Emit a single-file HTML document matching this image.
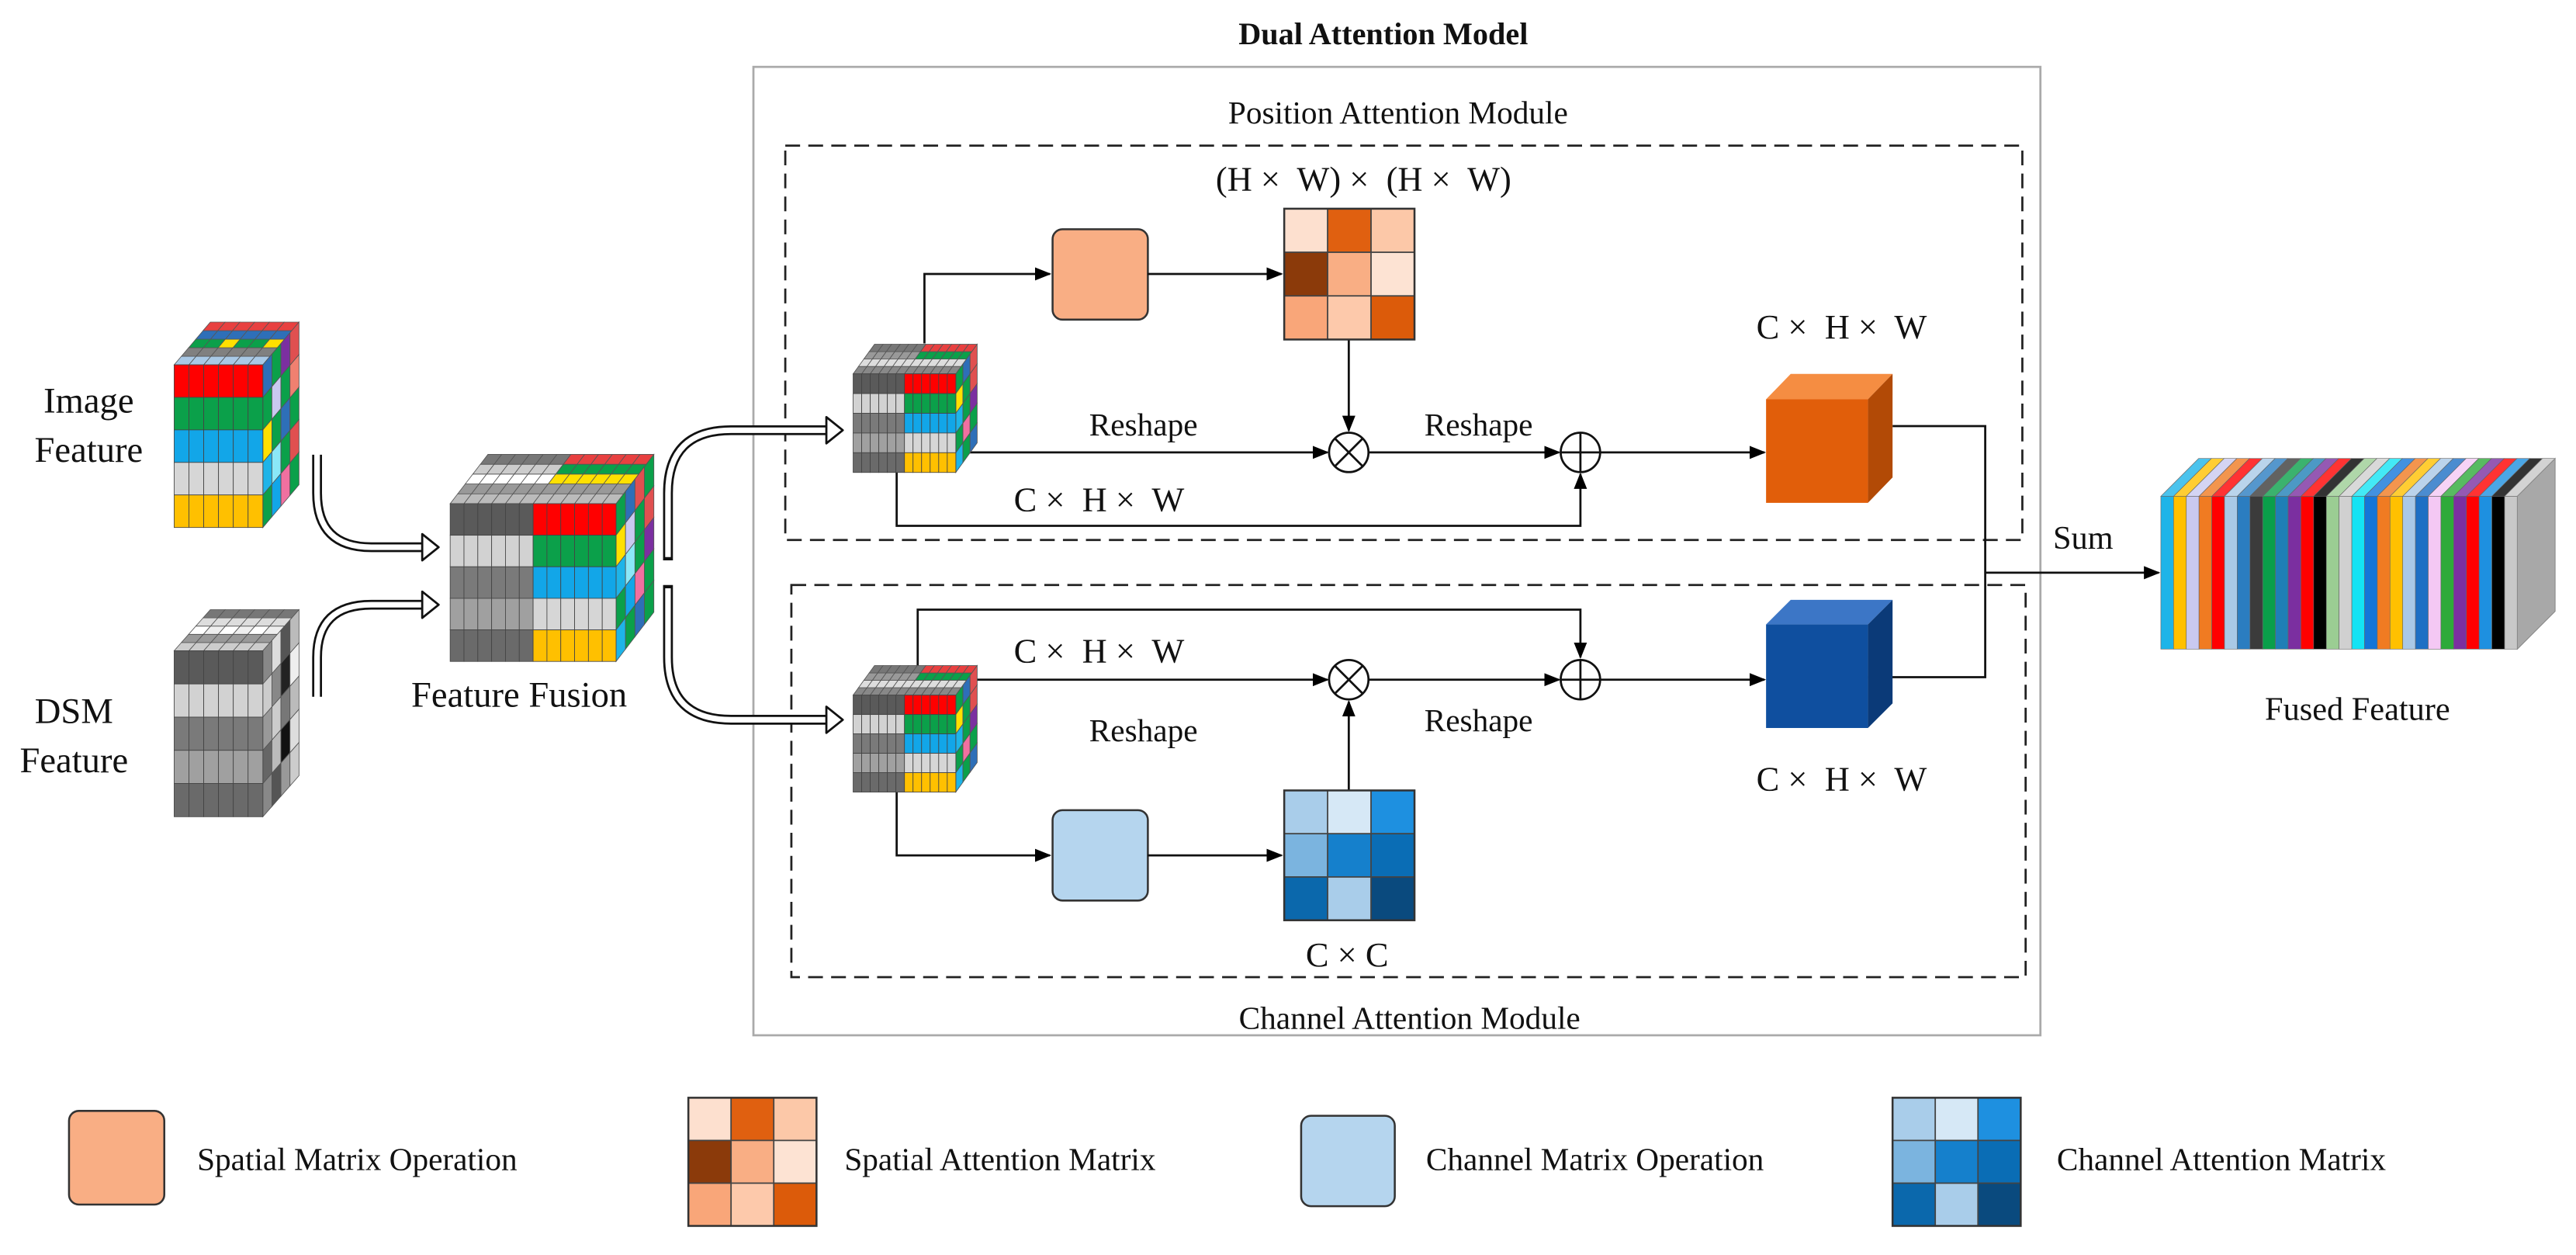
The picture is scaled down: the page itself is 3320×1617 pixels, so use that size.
<!DOCTYPE html>
<html><head><meta charset="utf-8">
<style>
html,body{margin:0;padding:0;background:#fff;}
svg{display:block;}
text{font-family:"Liberation Serif",serif;fill:#111;}
</style></head>
<body>
<svg id="s" xmlns="http://www.w3.org/2000/svg" width="3320" height="1617" viewBox="0 0 1568 763.7">
<defs>
<marker id="ah" markerWidth="10" markerHeight="10" refX="9" refY="5" orient="auto" markerUnits="userSpaceOnUse">
<path d="M0,1 L10,5 L0,9 Z" fill="#000"/>
</marker>
</defs>
<rect width="1568" height="764" fill="#fff"/>

<text x="842" y="27" font-size="19" font-weight="bold" text-anchor="middle">Dual Attention Model</text>
<rect x="458.6" y="40.7" width="783.4" height="589.3" fill="none" stroke="#aaa" stroke-width="1.3"/>
<text x="851" y="75" font-size="19.5" text-anchor="middle">Position Attention Module</text>
<rect x="478" y="88.6" width="753" height="240" fill="none" stroke="#222" stroke-width="1.3" stroke-dasharray="9,5"/>
<rect x="481.7" y="356" width="751.3" height="238.6" fill="none" stroke="#222" stroke-width="1.3" stroke-dasharray="9,5"/>
<text x="858" y="626" font-size="19.5" text-anchor="middle">Channel Attention Module</text>

<text x="830" y="116" font-size="21" text-anchor="middle" xml:space="preserve">(H ×  W) ×  (H ×  W)</text>
<text x="696" y="265" font-size="19.5" text-anchor="middle">Reshape</text>
<text x="900" y="265" font-size="19.5" text-anchor="middle">Reshape</text>
<text x="669" y="311" font-size="21" text-anchor="middle" xml:space="preserve">C ×  H ×  W</text>
<text x="1121" y="206" font-size="21" text-anchor="middle" xml:space="preserve">C ×  H ×  W</text>

<text x="669" y="403" font-size="21" text-anchor="middle" xml:space="preserve">C ×  H ×  W</text>
<text x="696" y="451" font-size="19.5" text-anchor="middle">Reshape</text>
<text x="900" y="445" font-size="19.5" text-anchor="middle">Reshape</text>
<text x="1121" y="481" font-size="21" text-anchor="middle" xml:space="preserve">C ×  H ×  W</text>
<text x="820" y="588" font-size="21" text-anchor="middle">C × C</text>

<text x="54" y="251" font-size="22" text-anchor="middle">Image</text>
<text x="54" y="281" font-size="22" text-anchor="middle">Feature</text>
<text x="45" y="440" font-size="22" text-anchor="middle">DSM</text>
<text x="45" y="470" font-size="22" text-anchor="middle">Feature</text>
<text x="316" y="430" font-size="22" text-anchor="middle">Feature Fusion</text>
<text x="1268" y="334" font-size="20" text-anchor="middle">Sum</text>
<text x="1435" y="438" font-size="20" text-anchor="middle">Fused Feature</text>

<rect x="640.7" y="139.5" width="58" height="55" rx="6" fill="#F9AE84" stroke="#333" stroke-width="1.2"/>
<rect x="640.7" y="493" width="58" height="55" rx="6" fill="#B5D5EE" stroke="#333" stroke-width="1.2"/>

<g stroke="#111" stroke-width="1.3" fill="none">
<polyline points="562.7,209 562.7,166.7 639,166.7" marker-end="url(#ah)"/>
<line x1="698.6" y1="166.7" x2="780" y2="166.7" marker-end="url(#ah)"/>
<line x1="821" y1="206.6" x2="821" y2="262" marker-end="url(#ah)"/>
<line x1="589" y1="275.3" x2="808" y2="275.3" marker-end="url(#ah)"/>
<line x1="833.3" y1="275.3" x2="949" y2="275.3" marker-end="url(#ah)"/>
<line x1="974" y1="275.3" x2="1074" y2="275.3" marker-end="url(#ah)"/>
<polyline points="545.8,287 545.8,320 962,320 962,288.5" marker-end="url(#ah)"/>
<circle cx="821" cy="275.3" r="12" fill="#fff"/>
<line x1="812.5" y1="266.8" x2="829.5" y2="283.8"/><line x1="829.5" y1="266.8" x2="812.5" y2="283.8"/>
<circle cx="962" cy="275.3" r="12" fill="#fff"/>
<line x1="950" y1="275.3" x2="974" y2="275.3"/><line x1="962" y1="263.3" x2="962" y2="287.3"/>

<polyline points="558.6,405 558.6,371 962,371 962,400" marker-end="url(#ah)"/>
<line x1="589" y1="413.6" x2="808" y2="413.6" marker-end="url(#ah)"/>
<line x1="833.3" y1="413.6" x2="949" y2="413.6" marker-end="url(#ah)"/>
<line x1="974" y1="413.6" x2="1074" y2="413.6" marker-end="url(#ah)"/>
<line x1="821" y1="481" x2="821" y2="427" marker-end="url(#ah)"/>
<polyline points="545.8,482 545.8,520.5 639,520.5" marker-end="url(#ah)"/>
<line x1="698.6" y1="520.5" x2="780" y2="520.5" marker-end="url(#ah)"/>
<circle cx="821" cy="413.6" r="12" fill="#fff"/>
<line x1="812.5" y1="405.1" x2="829.5" y2="422.1"/><line x1="829.5" y1="405.1" x2="812.5" y2="422.1"/>
<circle cx="962" cy="413.6" r="12" fill="#fff"/>
<line x1="950" y1="413.6" x2="974" y2="413.6"/><line x1="962" y1="401.6" x2="962" y2="425.6"/>

<polyline points="1152,259.3 1208.4,259.3 1208.4,412.1 1137,412.1"/>
<line x1="1208.4" y1="348.5" x2="1314" y2="348.5" marker-end="url(#ah)"/>
</g>

<g fill="none" stroke-linejoin="round">
<g stroke="#111" stroke-width="6">
<path d="M193,276.7 L193,300 Q193,333 226,333 L258,333"/>
<path d="M193,424 L193,400 Q193,368 226,368 L258,368"/>
<path d="M406.6,341 L406.6,300 Q406.6,261.8 445,261.8 L504,261.8"/>
<path d="M406.6,356 L406.6,400 Q406.6,438 445,438 L504,438"/>
</g>
<g stroke="#fff" stroke-width="3.4">
<path d="M193,275 L193,300 Q193,333 226,333 L260,333"/>
<path d="M193,426 L193,400 Q193,368 226,368 L260,368"/>
<path d="M406.6,339 L406.6,300 Q406.6,261.8 445,261.8 L506,261.8"/>
<path d="M406.6,358 L406.6,400 Q406.6,438 445,438 L506,438"/>
</g>
<g fill="#fff" stroke="#111" stroke-width="1.3">
<path d="M257,325 L267,333 L257,341 Z"/>
<path d="M257,360 L267,368 L257,376 Z"/>
<path d="M503,253.8 L513,261.8 L503,269.8 Z"/>
<path d="M503,430 L513,438 L503,446 Z"/>
</g>
</g>

<g stroke="none">
<polygon points="1075,243 1090,227.5 1152,227.5 1137,243" fill="#F58D42"/>
<polygon points="1137,243 1152,227.5 1152,290.5 1137,306" fill="#B24A06"/>
<rect x="1075" y="243" width="62" height="63" fill="#E15E0A"/>
<polygon points="1075,380 1090,365 1152,365 1137,380" fill="#3C76C6"/>
<polygon points="1137,380 1152,365 1152,428 1137,443" fill="#0B3A78"/>
<rect x="1075" y="380" width="62" height="63" fill="#0F4F9F"/>
</g>

<g id="dyn"></g>

<rect x="42" y="676" width="58" height="57" rx="6" fill="#F9AE84" stroke="#333" stroke-width="1.2"/>
<text x="120" y="712" font-size="19.5">Spatial Matrix Operation</text>
<text x="514" y="712" font-size="19.5">Spatial Attention Matrix</text>
<rect x="792" y="679" width="57" height="55" rx="6" fill="#B5D5EE" stroke="#333" stroke-width="1.2"/>
<text x="868" y="712" font-size="19.5">Channel Matrix Operation</text>
<text x="1252" y="712" font-size="19.5">Channel Attention Matrix</text>
</svg>
<script>
var NS="http://www.w3.org/2000/svg",g=document.getElementById("dyn");
function el(t,a){var e=document.createElementNS(NS,t);for(var k in a)e.setAttribute(k,a[k]);g.appendChild(e);return e;}
function mat(x,y,w,h,c){var cw=w/3,ch=h/3;for(var r=0;r<3;r++)for(var k=0;k<3;k++)el("rect",{x:x+k*cw,y:y+r*ch,width:cw,height:ch,fill:c[r*3+k],stroke:"#444","stroke-width":0.8});el("rect",{x:x,y:y,width:w,height:h,fill:"none",stroke:"#333","stroke-width":1.2});}
var sp=["#FDE0CF","#E06010","#FCC8A8","#8B3A0A","#F9AE84","#FDE3D3","#F9A679","#FDC9AB","#DC5B0A"];
var ch=["#A9CDEA","#D6E8F6","#1E90E0","#7BB4DF","#1580CC","#0A6DB5","#0B68AC","#A9CDEA","#0A4A7E"];
mat(781.7,127,79.3,79.6,sp);mat(781.7,481,79.3,79,ch);
mat(419,668,78,78,sp);mat(1152,668,78,78,ch);
function cube(x,y,w,h,dx,dy,cols,rowsC,topC,sideC){
 var nr=rowsC.length,cw=w/cols,rh=h/nr,nt=topC.length,ns=sideC[0].length;
 for(var i=0;i<nt;i++)for(var c=0;c<cols;c++){var t0=i/nt,t1=(i+1)/nt;var tr=topC[nt-1-i];var col=tr[c%tr.length];
  var ax=x+c*cw,bx=x+(c+1)*cw;
  el("polygon",{points:[ax+dx*t0,y+dy*t0,bx+dx*t0,y+dy*t0,bx+dx*t1,y+dy*t1,ax+dx*t1,y+dy*t1].join(","),fill:col,stroke:"#555","stroke-width":0.4});}
 for(var r=0;r<nr;r++)for(var j=0;j<ns;j++){var t0=j/ns,t1=(j+1)/ns;var col=sideC[r][j];var X=x+w,Y0=y+r*rh,Y1=y+(r+1)*rh;
  el("polygon",{points:[X+dx*t0,Y0+dy*t0,X+dx*t1,Y0+dy*t1,X+dx*t1,Y1+dy*t1,X+dx*t0,Y1+dy*t0].join(","),fill:col,stroke:"#555","stroke-width":0.4});}
 for(var r=0;r<nr;r++)for(var c=0;c<cols;c++){var row=rowsC[r];var col=Array.isArray(row)?row[c]:row;
  el("rect",{x:x+c*cw,y:y+r*rh,width:cw,height:rh,fill:col,stroke:"#444","stroke-width":0.4});}
}
var R="#FF0000",G="#0BA04A",B="#12A6E8",L="#D6D6D6",Y="#FFC000";
var imgSide=[["#2E6FB8","#0BA04A","#7B2FA0","#E05050"],["#0BA04A","#C9C9F0","#0BA04A","#F08070"],["#FFE000","#0BA04A","#2E6FB8","#0BA04A"],["#1EB4E8","#8BE8F8","#0BA04A","#E05050"],["#0BA04A","#12A6E8","#F070A0","#0BA04A"]];
var imgTop=[["#E84040"],["#2E6FB8"],["#0BA04A","#0BA04A","#FFE000"],["#808080"],["#A9C9E6"]];
cube(106,222,54,99,22,-26,6,[R,G,B,L,Y],imgTop,imgSide);
var dg="#5A5A5A",lg="#D2D2D2",mg="#7A7A7A",gg="#A0A0A0",d2="#6A6A6A";
var dsmSide=[["#888","#ddd","#555","#bbb"],["#ccc","#888","#222","#eee"],["#999","#ccc","#777","#bbb"],["#666","#bbb","#111","#ddd"],["#888","#555","#999","#ccc"]];
cube(106,396,54,101,22,-25,6,[dg,lg,mg,gg,d2],[["#777"],["#ddd"],["#fff","#eee"],["#999"],["#ccc"]],dsmSide);
function half(a,b){var r=[];for(var i=0;i<12;i++)r.push(i<6?a:b);return r;}
var fusSide=[["#0BA04A","#2E6FB8","#E05050","#0BA04A"],["#FFE000","#C9C9F0","#0BA04A","#E05050"],["#1EB4E8","#8BE8F8","#0BA04A","#7B2FA0"],["#0BA04A","#12A6E8","#F070A0","#0BA04A"],["#1EB4E8","#0BA04A","#2E6FB8","#0BA04A"]];
cube(274,306.5,101,96,23,-30,12,[half(dg,R),half(lg,G),half(mg,B),half(gg,L),half(d2,Y)],[half("#777","#E84040"),half("#ccc","#0BA04A"),half("#fff","#FFE000"),["#999"],["#bbb"]],fusSide);
var smSide=[["#0BA04A","#2E6FB8","#E05050"],["#FFE000","#0BA04A","#E05050"],["#1EB4E8","#0BA04A","#7B2FA0"],["#0BA04A","#F070A0","#0BA04A"],["#1EB4E8","#0BA04A","#2E6FB8"]];
var smTop=[half("#777","#E84040"),half("#999","#0BA04A"),["#ddd"],["#888"]];
cube(519.3,227.5,62.5,60,13,-18,12,[half(dg,R),half(lg,G),half(mg,B),half(gg,L),half(d2,Y)],smTop,smSide);
cube(519.3,423,62.5,59,13,-18,12,[half(dg,R),half(lg,G),half(mg,B),half(gg,L),half(d2,Y)],smTop,smSide);
var fc=["#1EB4E8","#FFC000","#C9C9F0","#F07B22","#FF0000","#A9C9E6","#2B7DC0","#3B3B3B","#0A9F4A","#1F7FB6","#7B2FA0","#FF0000","#000000","#9BCD93","#D0D0D0","#14E3F4","#1475D8","#F07B22","#FFC000","#AAC8E6","#1E6FC4","#F4C8F4","#2EAA3A","#7B2FA0","#FF0000","#1E90E0","#000000","#C8C8C8"];
var fx=1315.3,fy=302,fw=217,fh=93,dd=23,sw=fw/fc.length;
for(var i=0;i<fc.length;i++){var a=fx+i*sw,b=a+sw;
 el("polygon",{points:[a,fy,b,fy,b+dd,fy-dd,a+dd,fy-dd].join(","),fill:fc[i],stroke:"#666","stroke-width":0.3,"fill-opacity":0.8});
 el("rect",{x:a,y:fy,width:sw,height:fh,fill:fc[i],stroke:"#666","stroke-width":0.3});}
el("polygon",{points:[fx+fw,fy,fx+fw+dd,fy-dd,fx+fw+dd,fy+fh-dd,fx+fw,fy+fh].join(","),fill:"#A8A8A8",stroke:"#888","stroke-width":0.5});
</script>
</body></html>
